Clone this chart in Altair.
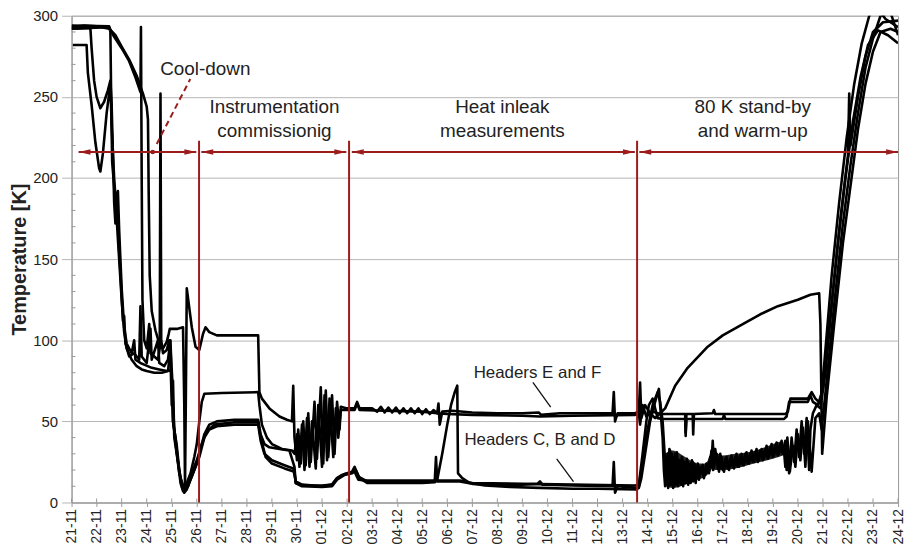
import altair as alt
import pandas as pd

# ---------------- data ----------------
day_labels = ['21-11', '22-11', '23-11', '24-11', '25-11', '26-11', '27-11', '28-11',
              '29-11', '30-11', '01-12', '02-12', '03-12', '04-12', '05-12', '06-12',
              '07-12', '08-12', '09-12', '10-12', '11-12', '12-12', '13-12', '14-12',
              '15-12', '16-12', '17-12', '18-12', '19-12', '20-12', '21-12', '22-12',
              '23-12', '24-12']
y_values = [0, 50, 100, 150, 200, 250, 300]
minor_y = [10, 20, 30, 40, 60, 70, 80, 90, 110, 120, 130, 140, 160, 170, 180, 190,
           210, 220, 230, 240, 260, 270, 280, 290]

# series: (day since 21-11, temperature K)
s1 = [(0, 293), (0.5, 294), (1.0, 293.5), (1.5, 292), (1.75, 288), (2.0, 281), (2.3, 273),
      (2.6, 263), (2.85, 252), (3.0, 244), (3.05, 236), (3.08, 190), (3.12, 140), (3.2, 118),
      (3.35, 106), (3.5, 98), (3.65, 95), (3.8, 99), (3.88, 104), (3.92, 107), (4.2, 107),
      (4.45, 108), (4.5, 60), (4.53, 10), (4.56, 60), (4.6, 132), (4.7, 120), (4.8, 108),
      (4.95, 96), (5.1, 94), (5.25, 104), (5.35, 108), (5.5, 105), (5.8, 103), (6.5, 103),
      (7.45, 103), (7.5, 68), (7.6, 64), (7.9, 58), (8.3, 53), (8.6, 51), (8.8, 50),
      (8.85, 72), (8.9, 40), (9.0, 26), (9.05, 45), (9.15, 24), (9.25, 50), (9.35, 23),
      (9.45, 55), (9.55, 25), (9.7, 62), (9.8, 27), (9.95, 71), (10.05, 24), (10.15, 69),
      (10.25, 28), (10.4, 66), (10.5, 30), (10.6, 62), (10.7, 45), (10.75, 59),
      (11.0, 58), (11.3, 58), (11.4, 62), (11.5, 58), (12.0, 58), (12.2, 56), (12.35, 59),
      (12.5, 55.5), (12.65, 58.5), (12.8, 55.5), (12.95, 58.5), (13.1, 55), (13.25, 58),
      (13.4, 55), (13.55, 58), (13.7, 55), (13.85, 58), (14.0, 54.5), (14.15, 57.5),
      (14.3, 54.5), (14.45, 57), (14.6, 55), (14.65, 61), (14.7, 48), (14.8, 56),
      (15.2, 56.5), (16.0, 55.5), (17.0, 55), (18.0, 55), (18.65, 55.5), (18.75, 54),
      (19.5, 55), (21.6, 55), (21.65, 68), (21.7, 50), (21.8, 55), (22.5, 55),
      (22.65, 56), (22.7, 74), (22.75, 52), (22.9, 60), (23.1, 55), (23.3, 52), (23.5, 55),
      (23.7, 58), (24.1, 72), (24.6, 83), (25.4, 96), (26.0, 103), (26.8, 110), (27.5, 116),
      (28.2, 121), (29.0, 125), (29.5, 128), (29.85, 129), (29.9, 110), (29.97, 30),
      (30.15, 65), (30.45, 110), (30.8, 160), (31.1, 195), (31.4, 230), (31.7, 258),
      (32.0, 278), (32.3, 290), (32.7, 292), (33.0, 290)]

s2 = [(0, 292), (0.7, 292.5), (1.5, 293), (1.7, 287), (2.0, 280), (2.3, 272), (2.55, 262),
      (2.75, 253), (2.77, 293), (2.8, 200), (2.83, 125), (2.9, 100), (3.0, 95), (3.1, 110),
      (3.15, 92), (3.3, 90), (3.45, 88), (3.52, 95), (3.55, 252), (3.58, 100), (3.65, 92),
      (3.8, 94), (3.9, 100), (3.95, 88), (4.0, 60), (4.05, 75), (4.1, 40), (4.2, 30),
      (4.3, 18), (4.45, 10), (4.55, 8), (4.6, 12), (4.75, 18), (4.9, 28), (5.0, 36),
      (5.1, 50), (5.2, 62), (5.3, 67), (6.0, 67.5), (7.45, 68), (7.5, 60), (7.6, 48),
      (7.8, 40), (8.0, 36), (8.4, 33), (8.8, 32),
      (8.9, 30), (9.0, 42), (9.1, 22), (9.2, 48), (9.3, 20), (9.4, 52), (9.5, 22), (9.6, 50),
      (9.75, 21), (9.85, 60), (10.0, 22), (10.1, 66), (10.2, 26), (10.3, 64), (10.45, 28),
      (10.55, 58), (10.65, 40), (10.75, 57),
      (11.0, 57), (11.3, 57), (11.4, 61), (11.5, 57), (12.5, 56.5), (14.0, 56), (14.6, 55),
      (15.0, 54.5), (16.0, 54), (18.0, 53.5), (18.7, 53), (20.0, 53.5), (22.5, 54),
      (22.65, 55), (22.7, 48), (22.8, 60), (22.95, 53), (23.2, 56), (23.5, 54.5),
      (24.5, 54.5), (24.52, 41), (24.55, 54.5), (24.8, 54.5), (24.82, 42), (24.85, 54.5),
      (25.6, 55), (25.65, 57), (25.7, 54.5), (28.5, 54.5), (28.6, 56), (28.7, 64),
      (29.4, 64), (29.55, 68), (29.7, 64), (29.9, 61),
      (30.05, 85), (30.35, 140), (30.65, 185), (30.95, 225), (31.25, 258), (31.55, 283),
      (31.85, 300), (32.1, 306), (32.5, 298), (33.0, 293)]

s3 = [(0.05, 282), (0.6, 282), (0.65, 265), (0.8, 245), (0.95, 222), (1.1, 206), (1.15, 204),
      (1.25, 215), (1.4, 240), (1.55, 258), (1.6, 232), (1.7, 200), (1.78, 182), (1.85, 192),
      (1.9, 168), (2.0, 132), (2.1, 108), (2.2, 98), (2.4, 92), (2.5, 100), (2.55, 88),
      (2.75, 86), (2.9, 85), (3.2, 83), (3.5, 82), (3.8, 81), (4.0, 82), (4.05, 60),
      (4.1, 45), (4.2, 35), (4.3, 20), (4.4, 10), (4.5, 6), (4.6, 8), (4.75, 14), (4.9, 20),
      (5.1, 28), (5.3, 40), (5.5, 45), (5.8, 47), (6.5, 48), (7.45, 48), (7.55, 38),
      (7.7, 30), (8.0, 26), (8.5, 23), (8.85, 21), (8.95, 13), (9.2, 11), (10.0, 10),
      (10.4, 11), (10.6, 15), (10.8, 17), (11.0, 18), (11.2, 19), (11.3, 22), (11.45, 16),
      (11.8, 13), (13.0, 13), (14.0, 12.5), (14.5, 13), (14.55, 28), (14.6, 13), (15.5, 13),
      (16.0, 11.5), (17.0, 11), (18.0, 11), (18.6, 11.5), (18.7, 13), (18.8, 11),
      (20.0, 10.5), (21.6, 10), (21.65, 25), (21.7, 6), (21.8, 10), (22.55, 9),
      (22.65, 10), (22.8, 25), (23.0, 45), (23.2, 60), (23.4, 68), (23.5, 62), (23.6, 50),
      (23.7, 25), (23.75, 12), (23.8, 30), (23.85, 10), (23.9, 32), (23.95, 12), (24.0, 28),
      (24.05, 10), (24.1, 30), (24.15, 12), (24.2, 27), (24.25, 13), (24.3, 25), (24.35, 11),
      (24.4, 26), (24.45, 13), (24.5, 24), (24.55, 14), (24.6, 25), (24.65, 13), (24.7, 24),
      (24.75, 14), (24.8, 25), (24.85, 14), (24.9, 22), (24.95, 15), (25.0, 24), (25.1, 18),
      (25.2, 23), (25.3, 17), (25.4, 20), (25.5, 28), (25.55, 22), (25.6, 38), (25.65, 24),
      (25.7, 33), (25.8, 21), (25.9, 30), (26.0, 20), (26.1, 27), (26.2, 21), (26.3, 27),
      (26.4, 22), (26.5, 28), (26.6, 22), (26.7, 29), (26.8, 23), (26.9, 30), (27.0, 24),
      (27.1, 30), (27.2, 25), (27.3, 31), (27.4, 25), (27.5, 32), (27.6, 26), (27.7, 33),
      (27.8, 27), (27.9, 34), (28.0, 28), (28.1, 35), (28.2, 29), (28.3, 36), (28.4, 30),
      (28.5, 38), (28.55, 20), (28.6, 35), (28.65, 18), (28.75, 40), (28.85, 25), (28.95, 45),
      (29.05, 28), (29.15, 50), (29.25, 30), (29.35, 52), (29.45, 20), (29.5, 45), (29.6, 55),
      (29.75, 60), (29.9, 58),
      (30.1, 80), (30.4, 130), (30.7, 175), (31.0, 214), (31.05, 252), (31.1, 220),
      (31.4, 250), (31.7, 275), (32.0, 290), (32.4, 296), (33.0, 297)]

s4 = [(0.0, 292), (0.75, 292.5), (0.8, 280), (0.9, 260), (1.0, 250), (1.15, 243), (1.3, 247),
      (1.45, 254), (1.55, 260), (1.6, 245), (1.65, 215), (1.7, 185), (1.75, 172), (1.82, 188),
      (1.88, 160), (1.95, 142), (2.05, 112), (2.1, 115), (2.15, 98), (2.3, 90), (2.5, 92),
      (2.7, 88), (2.75, 121), (2.8, 90), (3.0, 86), (3.15, 107), (3.2, 88), (3.45, 100),
      (3.5, 86), (3.7, 84), (3.85, 88), (3.95, 100), (4.0, 75), (4.05, 50), (4.15, 40),
      (4.25, 25), (4.35, 12), (4.45, 7), (4.6, 9), (4.8, 16), (5.0, 24), (5.1, 30),
      (5.3, 42), (5.5, 48), (5.8, 50), (6.5, 51), (7.45, 51), (7.55, 42), (7.7, 36),
      (7.9, 34), (8.3, 33), (8.7, 32), (8.9, 22), (8.95, 12), (9.2, 10), (10.0, 9.5),
      (10.4, 10), (10.6, 14), (10.9, 17), (11.2, 18), (11.35, 20), (11.5, 15), (11.8, 12),
      (13.0, 12), (14.0, 12), (14.5, 12.5), (14.6, 14), (14.8, 30), (15.0, 48), (15.15, 60),
      (15.3, 68), (15.4, 72), (15.43, 18), (15.6, 15), (15.9, 12), (16.5, 10.5), (17.5, 9.5),
      (18.7, 9), (20.0, 8.5), (21.0, 8.5), (22.55, 8),
      (22.65, 9), (22.75, 15), (22.9, 30), (23.1, 50), (23.3, 62), (23.45, 70), (23.5, 60),
      (23.6, 40), (23.65, 20), (23.7, 10), (23.77, 28), (23.82, 9), (23.87, 33), (23.92, 11),
      (23.97, 30), (24.02, 9), (24.07, 27), (24.12, 11), (24.17, 31), (24.22, 10), (24.27, 26),
      (24.32, 12), (24.37, 28), (24.42, 10), (24.47, 25), (24.52, 12), (24.57, 27), (24.62, 11),
      (24.67, 23), (24.72, 12), (24.77, 26), (24.82, 13), (24.87, 24), (24.92, 12), (24.97, 21),
      (25.05, 14), (25.15, 22), (25.25, 15), (25.35, 24), (25.45, 18), (25.55, 32), (25.62, 20),
      (25.75, 30), (25.85, 19), (25.95, 28), (26.05, 19), (26.15, 28), (26.25, 20), (26.35, 29),
      (26.45, 21), (26.55, 30), (26.65, 22), (26.75, 30), (26.85, 23), (26.95, 31), (27.05, 24),
      (27.15, 32), (27.25, 25), (27.35, 33), (27.45, 26), (27.55, 33), (27.65, 27), (27.75, 35),
      (27.85, 28), (27.95, 36), (28.05, 29), (28.15, 37), (28.25, 30), (28.35, 38), (28.45, 31),
      (28.5, 22), (28.58, 40), (28.68, 19), (28.8, 35), (28.9, 22), (29.0, 42), (29.1, 26),
      (29.2, 46), (29.3, 22), (29.4, 50), (29.55, 19), (29.7, 52), (29.85, 55), (29.95, 45),
      (30.15, 75), (30.45, 122), (30.8, 172), (31.1, 208), (31.4, 240), (31.7, 268),
      (32.0, 286), (32.3, 300), (32.7, 302), (33.0, 288)]

s5 = [(0.0, 294), (1.5, 293.5), (1.55, 290), (1.58, 250), (1.62, 210), (1.7, 195), (1.8, 175),
      (1.9, 150), (2.0, 125), (2.1, 105), (2.2, 95), (2.4, 88), (2.6, 84), (2.8, 82),
      (3.0, 81), (3.3, 80), (3.6, 80), (3.85, 81), (3.95, 95), (4.0, 80), (4.05, 50),
      (4.1, 44), (4.2, 30), (4.35, 15), (4.5, 8), (4.65, 10), (4.8, 18), (5.0, 26), (5.2, 36),
      (5.4, 44), (5.7, 48), (6.5, 49.5), (7.45, 49.5), (7.55, 40), (7.75, 28), (8.0, 24),
      (8.5, 21), (8.9, 19), (8.95, 12), (9.2, 10.5), (10.0, 10.5), (10.4, 11), (10.6, 15),
      (10.9, 17.5), (11.1, 18), (11.3, 19), (11.45, 14), (11.8, 13.5), (13.0, 13.5),
      (14.5, 13.5), (15.5, 13.5), (16.0, 12), (18.0, 11.5), (20.0, 11), (22.5, 10.5),
      (22.65, 11), (22.8, 30), (22.95, 50), (23.05, 60), (23.2, 64), (23.3, 58), (23.4, 52),
      (23.6, 51.5), (24.5, 51.5), (24.52, 43), (24.55, 51.5), (26.0, 51.5), (26.05, 54),
      (26.1, 51.5), (28.45, 51.5), (28.55, 53), (28.65, 62), (29.4, 62), (29.5, 66),
      (29.6, 62), (29.8, 60),
      (30.0, 70), (30.3, 115), (30.6, 160), (30.9, 200), (31.2, 235), (31.5, 262),
      (31.8, 282), (32.2, 291), (32.6, 288), (33.0, 283)]

# envelope of the densely oscillating band in the stand-by period
noise_day = [23.7, 24.0, 24.5, 25.0, 25.3, 25.5, 25.6, 25.7, 26.0, 26.5, 27.0, 27.5, 28.0, 28.4]
noise_low = [10, 9, 11, 14, 16, 19, 21, 20, 20, 21, 23, 25, 27, 29]
noise_high = [30, 32, 28, 24, 24, 30, 36, 32, 29, 30, 31, 33, 36, 38]

# phase boundaries (day) and arrow segments at 216 K
boundary_days = [5.09, 11.08, 22.58]
seg_start = [0.28, 5.18, 11.19, 22.67]
seg_end = [4.98, 10.97, 22.49, 33.0]
arrow_temp = 216

section_text = ["Cool-down", "Instrumentation", "commissionig", "Heat inleak", "measurements",
                "80 K stand-by", "and warm-up"]
section_day = [5.34, 8.1, 8.1, 17.2, 17.2, 27.2, 27.2]
section_temp = [267, 244, 229, 244, 229, 244, 229]

header_text = ["Headers E and F", "Headers C, B and D"]
header_day = [18.6, 18.7]
header_temp = [80, 38.5]
header_arrow_from = [(18.42, 74.1), (19.37, 26.9)]
header_arrow_to = [(19.13, 58.8), (20.04, 12.9)]

cooldown_dash = [(3.40, 221), (4.74, 261)]
cooldown_dot = (3.24, 216)

# ---------------- build tables ----------------
rows = []
for name, pts in [("S1", s1), ("S2", s2), ("S3", s3), ("S4", s4), ("S5", s5)]:
    for i, (d, t) in enumerate(pts):
        rows.append({"series": name, "i": i, "day": d, "temp": t})
df = pd.DataFrame(rows)

RED = "#9C1C1C"
FONT = "Liberation Sans"
TXT = "#222222"

x_scale = alt.Scale(domain=[0, 33], nice=False, zero=False)
y_scale = alt.Scale(domain=[0, 300], nice=False)

label_expr = "[" + ",".join(f"'{s}'" for s in day_labels) + "][datum.value]"

x_axis = alt.Axis(values=list(range(len(day_labels))), labelExpr=label_expr, labelAngle=-90,
                  labelFontSize=14, labelColor=TXT, labelFont=FONT, tickSize=4,
                  tickColor="#999999", domainColor="#999999", grid=False, title=None,
                  labelPadding=2, labelOverlap=False, labelBound=False, labelFlush=False)
y_axis = alt.Axis(values=y_values, grid=True, gridColor="#b5b5b5", tickSize=10,
                  tickColor="#b5b5b5", domainColor="#999999", labelFontSize=15,
                  labelColor=TXT, labelFont=FONT, labelPadding=4,
                  title="Temperature [K]", titleFontSize=20, titleFontWeight="bold",
                  titleColor=TXT, titleFont=FONT, titlePadding=3)


def xq(field):
    return alt.X(f"{field}:Q", scale=x_scale, axis=x_axis)


def yq(field):
    return alt.Y(f"{field}:Q", scale=y_scale, axis=y_axis)


lines = alt.Chart(df).mark_line(color="black", strokeWidth=2.6, clip=True,
                                strokeJoin="round").encode(
    x=xq("day"), y=yq("temp"), detail="series:N", order="i:Q")

band = alt.Chart(pd.DataFrame({"day": noise_day, "lo": noise_low, "hi": noise_high})
                 ).mark_area(color="black", opacity=0.85, interpolate="monotone").encode(
    x=xq("day"), y=yq("lo"), y2="hi:Q")

minor = alt.Chart(pd.DataFrame({"temp": minor_y})).mark_rule(color="#999999").encode(
    x=alt.value(0), x2=alt.value(4), y=yq("temp"))

xin = alt.Chart(pd.DataFrame({"day": list(range(len(day_labels)))})).mark_rule(
    color="#999999").encode(x=xq("day"), y=alt.value(486), y2=alt.value(490))

bounds = alt.Chart(pd.DataFrame({"day": boundary_days, "t0": [0] * 3, "t1": [223] * 3})
                   ).mark_rule(color=RED, strokeWidth=2).encode(
    x=xq("day"), y=yq("t0"), y2="t1:Q")

seg_df = pd.DataFrame({"d0": seg_start, "d1": seg_end, "t": [arrow_temp] * 4})
segs = alt.Chart(seg_df).mark_rule(color=RED, strokeWidth=2).encode(
    x=xq("d0"), x2="d1:Q", y=yq("t"))
left_heads = alt.Chart(seg_df).mark_point(shape="M0,0L2,-0.45L2,0.45Z", filled=True,
                                          color=RED, size=144, opacity=1).encode(
    x=xq("d0"), y=yq("t"))
right_heads = alt.Chart(seg_df).mark_point(shape="M0,0L-2,-0.45L-2,0.45Z", filled=True,
                                           color=RED, size=144, opacity=1).encode(
    x=xq("d1"), y=yq("t"))

dash = alt.Chart(pd.DataFrame({"d0": [cooldown_dash[0][0]], "t0": [cooldown_dash[0][1]],
                               "d1": [cooldown_dash[1][0]], "t1": [cooldown_dash[1][1]]})
                 ).mark_rule(color=RED, strokeWidth=2, strokeDash=[6, 4]).encode(
    x=xq("d0"), y=yq("t0"), x2="d1:Q", y2="t1:Q")
dot = alt.Chart(pd.DataFrame({"d": [cooldown_dot[0]], "t": [cooldown_dot[1]]})).mark_point(
    filled=True, color=RED, size=22, opacity=1).encode(x=xq("d"), y=yq("t"))

sections = alt.Chart(pd.DataFrame({"label": section_text, "d": section_day,
                                   "t": section_temp})).mark_text(
    font=FONT, fontSize=19, color=TXT, align="center", baseline="middle").encode(
    x=xq("d"), y=yq("t"), text="label:N")

headers = alt.Chart(pd.DataFrame({"label": header_text, "d": header_day,
                                  "t": header_temp})).mark_text(
    font=FONT, fontSize=17, color=TXT, align="center", baseline="middle").encode(
    x=xq("d"), y=yq("t"), text="label:N")

harrows = alt.Chart(pd.DataFrame({
    "d0": [p[0] for p in header_arrow_from], "t0": [p[1] for p in header_arrow_from],
    "d1": [p[0] for p in header_arrow_to], "t1": [p[1] for p in header_arrow_to]})
).mark_rule(color="#111111", strokeWidth=1.3).encode(
    x=xq("d0"), y=yq("t0"), x2="d1:Q", y2="t1:Q")

chart = alt.layer(
    lines, minor, xin, band, bounds, segs, left_heads, right_heads, dash, dot,
    sections, headers, harrows
).properties(
    width=832, height=490,
    padding={"left": 64, "top": 6, "right": 8, "bottom": 42},
    autosize=alt.AutoSizeParams(type="none"),
    background="white",
).configure_view(stroke="#999999")

chart.save("out.html", embed_options={"renderer": "svg", "actions": False})
